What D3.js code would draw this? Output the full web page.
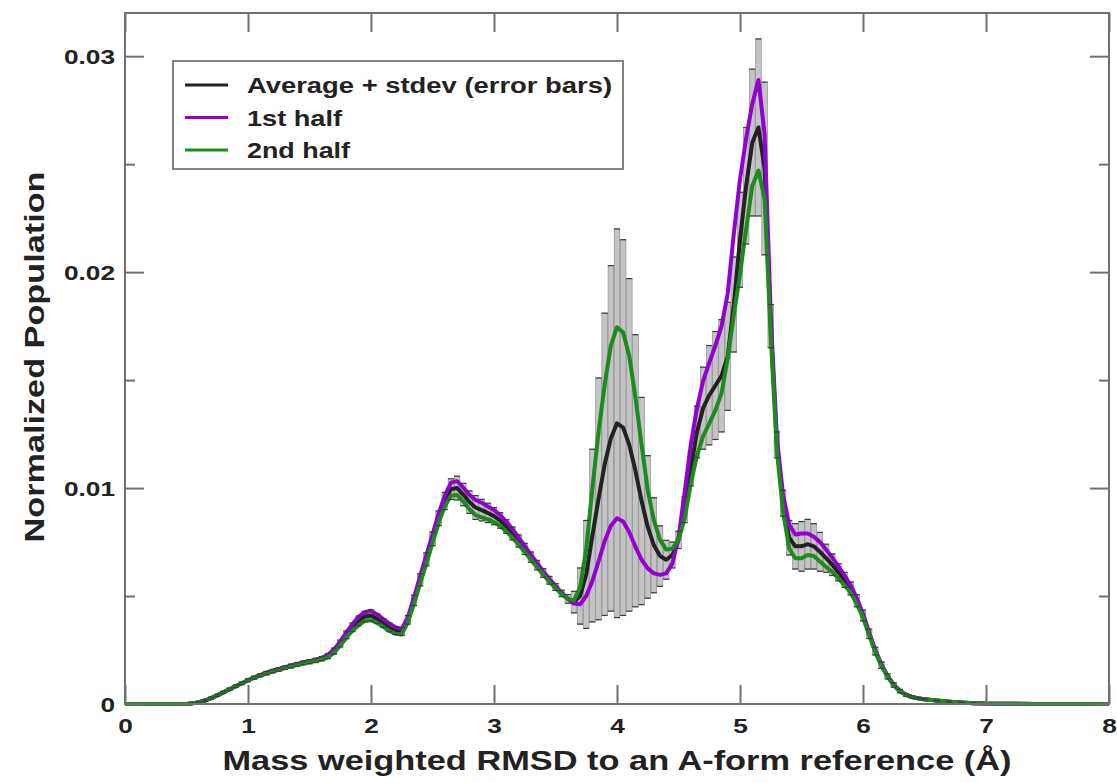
<!DOCTYPE html>
<html>
<head>
<meta charset="utf-8">
<script src="https://cdn.jsdelivr.net/npm/d3@7"></script>
<style>
body { margin: 0; background: #fff; }
svg text { font-family: "Liberation Sans", Arial, Helvetica, sans-serif; font-weight: bold; fill: #222; }
.tick line { stroke: #707070; stroke-width: 2; }
</style>
</head>
<body>
<div class="container"></div>
<script>
const WIDTH = 1117,
    HEIGHT = 783,
    LEFT = 125,
    RIGHT = 1109,
    TOP = 13,
    BOTTOM = 704,
    STRETCH = 1.25;

// RMSD bins (Å)
const rmsd = [
    0, 0.1, 0.2, 0.3, 0.4,
    0.45, 0.5, 0.55, 0.6, 0.65, 0.7, 0.75, 0.8, 0.85, 0.9, 0.95,
    1.0, 1.05, 1.1, 1.15, 1.2, 1.25, 1.3, 1.35, 1.4, 1.45, 1.5, 1.55, 1.6, 1.65, 1.7, 1.75, 1.8, 1.85, 1.9, 1.95,
    2.0, 2.05, 2.1, 2.15, 2.2, 2.25, 2.3, 2.35, 2.4, 2.45, 2.5, 2.55, 2.6, 2.65, 2.7, 2.75, 2.8, 2.85, 2.9, 2.95,
    3.0, 3.05, 3.1, 3.15, 3.2, 3.25, 3.3, 3.35, 3.4, 3.45, 3.5, 3.55, 3.6, 3.65, 3.7, 3.75, 3.8, 3.85, 3.9, 3.95,
    4.0, 4.05, 4.1, 4.15, 4.2, 4.25, 4.3, 4.35, 4.4, 4.45, 4.5, 4.55, 4.6, 4.65, 4.7, 4.75, 4.8, 4.85, 4.9, 4.95,
    5.0, 5.05, 5.1, 5.15, 5.2, 5.25, 5.3, 5.35, 5.4, 5.45, 5.5, 5.55, 5.6, 5.65, 5.7, 5.75, 5.8, 5.85, 5.9, 5.95,
    6.0, 6.05, 6.1, 6.15, 6.2, 6.25, 6.3, 6.35, 6.4, 6.45, 6.5,
    6.6, 6.7, 6.8, 6.9, 7.0, 7.2, 7.4, 7.6, 7.8, 8.0
];

const average = [
    0, 0, 0, 0, 0,
    0, 0, 0.00003, 0.00008, 0.00016, 0.00027, 0.00040, 0.00054, 0.00068, 0.00082, 0.00096,
    0.00110, 0.00122, 0.00133, 0.00143, 0.00152, 0.00160, 0.00168, 0.00176, 0.00183, 0.00190, 0.00196, 0.00202, 0.00210, 0.00222, 0.00245, 0.00280, 0.00320, 0.00355, 0.00385, 0.00405,
    0.00410, 0.00395, 0.00375, 0.00355, 0.00340, 0.00335, 0.00390, 0.00480, 0.00575, 0.00670, 0.00765, 0.00860, 0.00940, 0.00995, 0.01000, 0.00970, 0.00935, 0.00910, 0.00898, 0.00885,
    0.00870, 0.00850, 0.00822, 0.00790, 0.00755, 0.00718, 0.00680, 0.00643, 0.00607, 0.00573, 0.00542, 0.00512, 0.00487, 0.00472, 0.00500, 0.00600, 0.00780, 0.00950, 0.01110, 0.01230,
    0.01300, 0.01280, 0.01200, 0.01080, 0.00940, 0.00820, 0.00735, 0.00685, 0.00668, 0.00690, 0.00760, 0.00900, 0.01090, 0.01260, 0.01370, 0.01430, 0.01475, 0.01520, 0.01610, 0.01850,
    0.02150, 0.02400, 0.02600, 0.02670, 0.02480, 0.01750, 0.01200, 0.00930, 0.00770, 0.00730, 0.00730, 0.00740, 0.00730, 0.00705, 0.00675, 0.00645, 0.00610, 0.00575, 0.00535, 0.00478,
    0.00410, 0.00325, 0.00245, 0.00180, 0.00128, 0.00088, 0.00060, 0.00042, 0.00032, 0.00026, 0.00022,
    0.00016, 0.00011, 0.00007, 0.00004, 0.00002, 0.00001, 0, 0, 0, 0
];

const stdev = [
    0, 0, 0, 0, 0,
    0, 0, 0.00002, 0.00003, 0.00004, 0.00005, 0.00005, 0.00005, 0.00006, 0.00006, 0.00006,
    0.00007, 0.00007, 0.00007, 0.00008, 0.00008, 0.00008, 0.00008, 0.00009, 0.00009, 0.00009, 0.00010, 0.00010, 0.00010, 0.00012, 0.00014, 0.00016, 0.00018, 0.00020, 0.00022, 0.00024,
    0.00025, 0.00022, 0.00020, 0.00020, 0.00018, 0.00018, 0.00020, 0.00024, 0.00028, 0.00030, 0.00032, 0.00034, 0.00040, 0.00048, 0.00055, 0.00052, 0.00052, 0.00055, 0.00050, 0.00045,
    0.00040, 0.00036, 0.00032, 0.00030, 0.00028, 0.00026, 0.00024, 0.00022, 0.00020, 0.00018, 0.00016, 0.00015, 0.00020, 0.00050, 0.00130, 0.00250, 0.00400, 0.00560, 0.00700, 0.00800,
    0.00900, 0.00870, 0.00770, 0.00630, 0.00480, 0.00330, 0.00220, 0.00140, 0.00090, 0.00060, 0.00040, 0.00060, 0.00080, 0.00120, 0.00190, 0.00230, 0.00250, 0.00260, 0.00250, 0.00220,
    0.00220, 0.00270, 0.00340, 0.00410, 0.00400, 0.00100, 0.00060, 0.00060, 0.00080, 0.00105, 0.00115, 0.00115, 0.00105, 0.00090, 0.00065, 0.00050, 0.00040, 0.00035, 0.00030, 0.00028,
    0.00025, 0.00022, 0.00018, 0.00015, 0.00012, 0.00010, 0.00008, 0.00006, 0.00005, 0.00004, 0.00003,
    0.00002, 0.00002, 0.00001, 0.00001, 0, 0, 0, 0, 0, 0
];

const firstHalf = [
    0, 0, 0, 0, 0,
    0, 0, 0.00003, 0.00008, 0.00016, 0.00027, 0.00040, 0.00054, 0.00068, 0.00082, 0.00096,
    0.00110, 0.00123, 0.00134, 0.00145, 0.00154, 0.00162, 0.00170, 0.00178, 0.00185, 0.00192, 0.00198, 0.00205, 0.00214, 0.00228, 0.00253, 0.00290, 0.00332, 0.00370, 0.00405, 0.00425,
    0.00432, 0.00415, 0.00393, 0.00372, 0.00355, 0.00348, 0.00402, 0.00495, 0.00592, 0.00690, 0.00785, 0.00882, 0.00965, 0.01025, 0.01032, 0.01002, 0.00968, 0.00945, 0.00932, 0.00915,
    0.00898, 0.00875, 0.00845, 0.00810, 0.00772, 0.00732, 0.00692, 0.00653, 0.00615, 0.00580, 0.00547, 0.00515, 0.00488, 0.00465, 0.00462, 0.00500, 0.00570, 0.00660, 0.00755, 0.00825,
    0.00860, 0.00845, 0.00795, 0.00728, 0.00668, 0.00628, 0.00605, 0.00598, 0.00605, 0.00650, 0.00770, 0.00980, 0.01200, 0.01370, 0.01495, 0.01580, 0.01660, 0.01750, 0.01900, 0.02180,
    0.02430, 0.02620, 0.02780, 0.02890, 0.02640, 0.01800, 0.01230, 0.00970, 0.00830, 0.00785, 0.00790, 0.00790, 0.00775, 0.00750, 0.00715, 0.00678, 0.00638, 0.00595, 0.00550, 0.00490,
    0.00418, 0.00332, 0.00250, 0.00184, 0.00130, 0.00090, 0.00062, 0.00043, 0.00033, 0.00027, 0.00022,
    0.00016, 0.00011, 0.00007, 0.00004, 0.00002, 0.00001, 0, 0, 0, 0
];

const secondHalf = [
    0, 0, 0, 0, 0,
    0, 0, 0.00003, 0.00008, 0.00016, 0.00027, 0.00040, 0.00054, 0.00068, 0.00082, 0.00096,
    0.00110, 0.00121, 0.00132, 0.00141, 0.00150, 0.00158, 0.00166, 0.00174, 0.00181, 0.00188, 0.00194, 0.00199, 0.00206, 0.00216, 0.00237, 0.00270, 0.00308, 0.00340, 0.00365, 0.00385,
    0.00388, 0.00375, 0.00357, 0.00338, 0.00325, 0.00322, 0.00378, 0.00465, 0.00558, 0.00650, 0.00745, 0.00838, 0.00915, 0.00965, 0.00968, 0.00938, 0.00902, 0.00875, 0.00864, 0.00855,
    0.00842, 0.00825, 0.00799, 0.00770, 0.00738, 0.00704, 0.00668, 0.00633, 0.00599, 0.00566, 0.00537, 0.00509, 0.00486, 0.00480, 0.00540, 0.00720, 0.01000, 0.01260, 0.01480, 0.01660,
    0.01745, 0.01720, 0.01610, 0.01420, 0.01200, 0.00990, 0.00850, 0.00760, 0.00715, 0.00720, 0.00760, 0.00860, 0.01020, 0.01150, 0.01240, 0.01300, 0.01360, 0.01440, 0.01600, 0.01800,
    0.01990, 0.02200, 0.02400, 0.02470, 0.02340, 0.01700, 0.01170, 0.00890, 0.00720, 0.00675, 0.00675, 0.00690, 0.00685, 0.00660, 0.00635, 0.00612, 0.00582, 0.00550, 0.00515, 0.00462,
    0.00400, 0.00318, 0.00240, 0.00176, 0.00126, 0.00086, 0.00058, 0.00041, 0.00031, 0.00025, 0.00021,
    0.00016, 0.00011, 0.00007, 0.00004, 0.00002, 0.00001, 0, 0, 0, 0
];

const xTicks = [0, 1, 2, 3, 4, 5, 6, 7, 8];
const yTicks = [0, 0.01, 0.02, 0.03];
const yTickLabels = ['0', '0.01', '0.02', '0.03'];
const yMinorTicks = [0.005, 0.015, 0.025];

const legendLabels = ['Average + stdev (error bars)', '1st half', '2nd half'];
const legendColors = ['#222222', '#9400d3', '#1b8c1b'];
const legendLengths = [365, 95, 103];

var translate = (x, y) => 'translate(' + x + ',' + y + ')';

var createChart = (container) => {
    var svg = d3.select(container).append('svg')
        .attr('width', WIDTH)
        .attr('height', HEIGHT)
        .style('background', '#fff');

    var x = d3.scaleLinear().domain([0, 8]).range([LEFT, RIGHT]);
    var y = d3.scaleLinear().domain([0, 0.032]).range([BOTTOM, TOP]);

    var points = rmsd.map((r, i) => ({
        r: r,
        m: average[i],
        s: stdev[i],
        a: firstHalf[i],
        b: secondHalf[i]
    }));

    // error bars (bodies)
    var bars = points.filter(d => d.s > 0);
    svg.append('g').selectAll('rect')
        .data(bars)
        .enter().append('rect')
        .attr('x', d => x(d.r) - 2.8)
        .attr('y', d => y(d.m + d.s))
        .attr('width', 5.6)
        .attr('height', d => y(d.m - d.s) - y(d.m + d.s))
        .attr('fill', '#c4c4c4')
        .attr('stroke', '#808080')
        .attr('stroke-width', 0.6);

    var line = (key) => d3.line()
        .x(d => x(d.r))
        .y(d => y(d[key]));

    ['m', 'a', 'b'].forEach((key, i) => {
        svg.append('path')
            .attr('d', line(key)(points))
            .attr('fill', 'none')
            .attr('stroke', legendColors[i])
            .attr('stroke-width', 4)
            .attr('stroke-linejoin', 'round');
    });

    // error bar caps on top
    var caps = svg.append('g')
        .attr('stroke', '#3c3c3c')
        .attr('stroke-width', 1.2);
    caps.selectAll('line.top')
        .data(bars)
        .enter().append('line')
        .attr('x1', d => x(d.r) - 3)
        .attr('x2', d => x(d.r) + 3)
        .attr('y1', d => y(d.m + d.s))
        .attr('y2', d => y(d.m + d.s));
    caps.selectAll('line.bottom')
        .data(bars)
        .enter().append('line')
        .attr('x1', d => x(d.r) - 3)
        .attr('x2', d => x(d.r) + 3)
        .attr('y1', d => y(d.m - d.s))
        .attr('y2', d => y(d.m - d.s));

    // axes, ticks inside on all four sides
    var bottomAxis = svg.append('g')
        .attr('transform', translate(0, BOTTOM))
        .call(d3.axisBottom(x).tickValues(xTicks).tickSize(-19).tickPadding(14).tickFormat(d3.format('d')));
    bottomAxis.attr('font-size', 21);
    bottomAxis.selectAll('text').attr('transform', 'scale(' + STRETCH + ',1)');

    svg.append('g')
        .attr('transform', translate(0, TOP))
        .call(d3.axisTop(x).tickValues(xTicks).tickSize(-19).tickFormat(''));

    var leftAxis = svg.append('g')
        .attr('transform', translate(LEFT, 0))
        .call(d3.axisLeft(y).tickValues(yTicks).tickSize(-19)
            .tickFormat((d, i) => yTickLabels[i]));
    leftAxis.attr('font-size', 21);
    leftAxis.selectAll('text')
        .attr('x', -10 / STRETCH)
        .attr('dy', '0.35em')
        .attr('transform', 'scale(' + STRETCH + ',1)');

    svg.append('g')
        .attr('transform', translate(LEFT, 0))
        .call(d3.axisLeft(y).tickValues(yMinorTicks).tickSize(-10).tickFormat(''));

    svg.append('g')
        .attr('transform', translate(RIGHT, 0))
        .call(d3.axisRight(y).tickValues(yTicks).tickSize(-19).tickFormat(''));

    svg.append('g')
        .attr('transform', translate(RIGHT, 0))
        .call(d3.axisRight(y).tickValues(yMinorTicks).tickSize(-10).tickFormat(''));

    svg.selectAll('.domain').remove();

    svg.append('rect')
        .attr('x', LEFT)
        .attr('y', TOP)
        .attr('width', RIGHT - LEFT)
        .attr('height', BOTTOM - TOP)
        .attr('fill', 'none')
        .attr('stroke', '#707070')
        .attr('stroke-width', 2);

    // axis titles
    svg.append('text')
        .attr('x', (LEFT + RIGHT) / 2)
        .attr('y', 770)
        .attr('text-anchor', 'middle')
        .attr('font-size', 28)
        .attr('textLength', 789)
        .attr('lengthAdjust', 'spacingAndGlyphs')
        .text('Mass weighted RMSD to an A-form reference (Å)');

    svg.append('text')
        .attr('transform', translate(44, 357) + ' rotate(-90)')
        .attr('text-anchor', 'middle')
        .attr('font-size', 28)
        .attr('textLength', 371)
        .attr('lengthAdjust', 'spacingAndGlyphs')
        .text('Normalized Population');

    // legend
    var legend = svg.append('g').attr('transform', translate(173, 61));
    legend.append('rect')
        .attr('width', 450)
        .attr('height', 108)
        .attr('fill', '#fff')
        .attr('stroke', '#777')
        .attr('stroke-width', 1.8);

    var rows = legend.selectAll('g.row')
        .data(legendLabels)
        .enter().append('g')
        .attr('transform', (d, i) => translate(0, 24 + i * 32.5));
    rows.append('line')
        .attr('x1', 12)
        .attr('x2', 55)
        .attr('stroke', (d, i) => legendColors[i])
        .attr('stroke-width', 3);
    rows.append('text')
        .attr('x', 74)
        .attr('y', 8)
        .attr('font-size', 22)
        .attr('textLength', (d, i) => legendLengths[i])
        .attr('lengthAdjust', 'spacingAndGlyphs')
        .text(d => d);
}

createChart('.container');
</script>
</body>
</html>
